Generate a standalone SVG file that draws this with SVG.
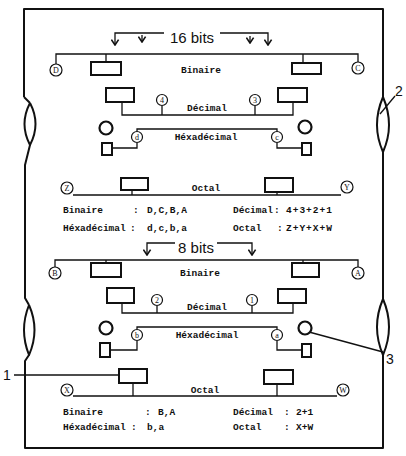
<svg xmlns="http://www.w3.org/2000/svg" width="406" height="456" viewBox="0 0 406 456">
<style>
.frame{fill:none;stroke:#111;stroke-width:2;stroke-linejoin:round}
.ln{fill:none;stroke:#111;stroke-width:1.3}
.box{fill:#fff;stroke:#111;stroke-width:2}
.node{fill:#fff;stroke:#111;stroke-width:1.2}
.big{fill:#fff;stroke:#111;stroke-width:2.2}
.lbl{font-family:"Liberation Mono","DejaVu Sans Mono",monospace;font-weight:bold;font-size:9.5px;fill:#111}
.c{text-anchor:middle}
.cl{font-family:"Liberation Serif","DejaVu Serif",serif;font-size:8px;fill:#111;text-anchor:middle}
.sans{font-family:"Liberation Sans","DejaVu Sans",sans-serif;fill:#111}
</style>
<defs>
<marker id="ah" viewBox="0 0 10 10" refX="9" refY="5" markerWidth="9" markerHeight="9" orient="auto" markerUnits="userSpaceOnUse">
<path d="M3,1 L9,5 L3,9" fill="none" stroke="#111" stroke-width="1.8"/>
</marker>
</defs>
<g id="frame">
<path class="frame" d="M24,97 V9 H383 V97"/>
<path class="frame" d="M383,97 Q371,125 383,152 Q395,125 383,97"/>
<path class="frame" d="M383,152 V299"/>
<path class="frame" d="M383,299 Q371,327 383,355 Q395,327 383,299"/>
<path class="frame" d="M383,355 V448 H25 V361 L29,355"/>
<path class="frame" d="M29,305 Q19,330 29,355 Q40,330 29,305"/>
<path class="frame" d="M29,305 L25,298 V165 L30,145"/>
<path class="frame" d="M30,103 Q19,124 30,145 Q41,124 30,103"/>
<path class="frame" d="M30,103 L24,97"/>
</g>
<g id="connectors">
<path class="ln" d="M164,33 H115 V45" marker-end="url(#ah)"/>
<path class="ln" d="M142,35 V42" marker-end="url(#ah)"/>
<path class="ln" d="M220,33 H268 V45" marker-end="url(#ah)"/>
<path class="ln" d="M250,36 V43" marker-end="url(#ah)"/>
<path class="ln" d="M56,64 V54 H358 V62"/>
<path class="ln" d="M106,54 V62 M303,54 V63"/>
<path class="ln" d="M122,102 V115 H293 V102 M162,106 V115 M255,106 V115"/>
<path class="ln" d="M137,131 V129 H277 V131"/>
<path class="ln" d="M137,143 V148 H112 M277,143 V148 H302"/>
<path class="ln" d="M73,195 H341 M132,190 V195 M277,192 V195"/>
<path class="ln" d="M175,243 H147 V255" marker-end="url(#ah)"/>
<path class="ln" d="M217,243 H252 V255" marker-end="url(#ah)"/>
<path class="ln" d="M55,267 V260 H358 V267"/>
<path class="ln" d="M106,260 V263 M303,260 V263"/>
<path class="ln" d="M122,303 V313 H293 V303 M157,306 V313 M252,306 V313"/>
<path class="ln" d="M137,329 V327 H277 V329"/>
<path class="ln" d="M137,341 V350 H110 M277,341 V350 H302"/>
<path class="ln" d="M73,396 H337 M133,383 V396 M277,384 V396"/>
<path class="ln" d="M14,375 H119"/>
<path class="ln" d="M309,332 L383,352"/>
<path class="ln" d="M395,96 L380,114"/>
</g>
<g id="title16"><text class="sans" x="192" y="43" font-size="15" text-anchor="middle">16 bits</text></g>
<g id="title8"><text class="sans" x="196" y="253" font-size="15" text-anchor="middle">8 bits</text></g>
<g id="bin16">
<rect class="box" x="91" y="62" width="30" height="13"/>
<rect class="box" x="292" y="63" width="29" height="11"/>
<circle class="node" cx="56" cy="70" r="6"/><text class="cl" x="56" y="73">D</text>
<circle class="node" cx="358" cy="68" r="6"/><text class="cl" x="358" y="71">C</text>
<text class="lbl c" x="201" y="73">Binaire</text>
</g>
<g id="dec16">
<rect class="box" x="106" y="88" width="28" height="14"/>
<rect class="box" x="278" y="88" width="29" height="14"/>
<circle class="node" cx="162" cy="100" r="5.5"/><text class="cl" x="162" y="103">4</text>
<circle class="node" cx="255" cy="100" r="5.5"/><text class="cl" x="255" y="103">3</text>
<text class="lbl c" x="207" y="111">Décimal</text>
</g>
<g id="hex16">
<circle class="big" cx="106" cy="128" r="6.5"/>
<circle class="big" cx="305" cy="127" r="6.5"/>
<circle class="node" cx="137" cy="137" r="5.5"/><text class="cl" x="137" y="140">d</text>
<circle class="node" cx="277" cy="137" r="5.5"/><text class="cl" x="277" y="140">c</text>
<rect class="box" x="102" y="143" width="10" height="12"/>
<rect class="box" x="302" y="143" width="9" height="12"/>
<text class="lbl c" x="206" y="140">Héxadécimal</text>
</g>
<g id="oct16">
<rect class="box" x="121" y="178" width="27" height="12"/>
<rect class="box" x="265" y="178" width="28" height="14"/>
<circle class="node" cx="67" cy="188" r="6"/><text class="cl" x="67" y="191">Z</text>
<circle class="node" cx="347" cy="187" r="6"/><text class="cl" x="347" y="190">Y</text>
<text class="lbl c" x="206" y="191">Octal</text>
</g>
<g id="legend16">
<text class="lbl" x="63" y="213">Binaire</text>
<text class="lbl" x="133" y="213">:</text>
<text class="lbl" x="147" y="213">D,C,B,A</text>
<text class="lbl" x="63" y="231">Héxadécimal</text>
<text class="lbl" x="130" y="231">:</text>
<text class="lbl" x="147" y="231">d,c,b,a</text>
<text class="lbl" x="233" y="213">Décimal</text>
<text class="lbl" x="274" y="213">:</text>
<text class="lbl" x="286" y="213" letter-spacing="1">4+3+2+1</text>
<text class="lbl" x="233" y="231">Octal</text>
<text class="lbl" x="277" y="231">:</text>
<text class="lbl" x="286" y="231" letter-spacing="1">Z+Y+X+W</text>
</g>
<g id="bin8">
<rect class="box" x="91" y="263" width="30" height="14"/>
<rect class="box" x="292" y="263" width="27" height="14"/>
<circle class="node" cx="55" cy="273" r="6"/><text class="cl" x="55" y="276">B</text>
<circle class="node" cx="358" cy="273" r="6"/><text class="cl" x="358" y="276">A</text>
<text class="lbl c" x="200" y="276">Binaire</text>
</g>
<g id="dec8">
<rect class="box" x="107" y="288" width="27" height="15"/>
<rect class="box" x="278" y="289" width="28" height="14"/>
<circle class="node" cx="157" cy="300" r="5.5"/><text class="cl" x="157" y="303">2</text>
<circle class="node" cx="252" cy="300" r="5.5"/><text class="cl" x="252" y="303">1</text>
<text class="lbl c" x="207" y="310">Décimal</text>
</g>
<g id="hex8">
<circle class="big" cx="106" cy="328" r="6.5"/>
<circle class="big" cx="305" cy="328" r="6.5"/>
<circle class="node" cx="137" cy="335" r="5.5"/><text class="cl" x="137" y="338">b</text>
<circle class="node" cx="277" cy="335" r="5.5"/><text class="cl" x="277" y="338">a</text>
<rect class="box" x="100" y="343" width="10" height="14"/>
<rect class="box" x="302" y="344" width="9" height="13"/>
<text class="lbl c" x="207" y="338">Héxadécimal</text>
</g>
<g id="oct8">
<rect class="box" x="119" y="369" width="28" height="14"/>
<rect class="box" x="264" y="370" width="29" height="14"/>
<circle class="node" cx="67" cy="390" r="6"/><text class="cl" x="67" y="393">X</text>
<circle class="node" cx="343" cy="390" r="6"/><text class="cl" x="343" y="393">W</text>
<text class="lbl c" x="205" y="393">Octal</text>
</g>
<g id="legend8">
<text class="lbl" x="63" y="415">Binaire</text>
<text class="lbl" x="145" y="415">:</text>
<text class="lbl" x="158" y="415">B,A</text>
<text class="lbl" x="63" y="430">Héxadécimal</text>
<text class="lbl" x="131" y="430">:</text>
<text class="lbl" x="147" y="430">b,a</text>
<text class="lbl" x="233" y="415">Décimal</text>
<text class="lbl" x="284" y="415">:</text>
<text class="lbl" x="296" y="415">2+1</text>
<text class="lbl" x="233" y="430">Octal</text>
<text class="lbl" x="284" y="430">:</text>
<text class="lbl" x="296" y="430">X+W</text>
</g>
<g id="callouts">
<text class="sans" x="3" y="380" font-size="14">1</text>
<text class="sans" x="395" y="96" font-size="14">2</text>
<text class="sans" x="386" y="364" font-size="14">3</text>
</g>
</svg>
